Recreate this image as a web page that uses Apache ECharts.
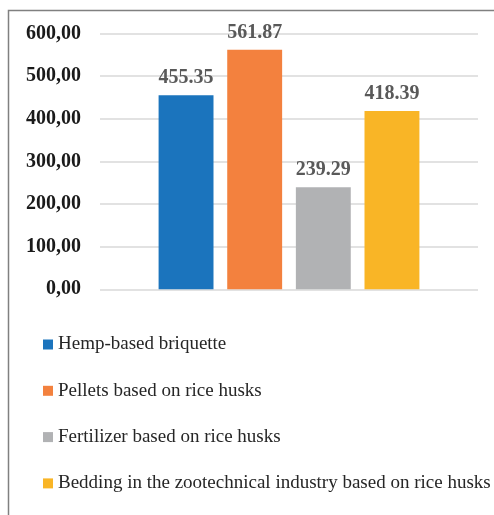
<!DOCTYPE html>
<html><head><meta charset="utf-8">
<script src="https://cdn.jsdelivr.net/npm/echarts@6/dist/echarts.min.js"></script>
<style>html,body{margin:0;padding:0;background:#fff}#c{width:494px;height:515px}</style>
</head><body><div id="c"></div>
<script>
const categories = [''];
const seriesNames = ['Hemp-based briquette','Pellets based on rice husks','Fertilizer based on rice husks','Bedding in the zootechnical industry based on rice husks'];
const seriesValues = [455.35, 561.87, 239.29, 418.39];
const seriesColors = ['#1B74BD','#F3813E','#B1B2B4','#F9B526'];
const yTicks = [0,100,200,300,400,500,600];
const FONT = "'Liberation Serif','Times New Roman',serif";
const chart = echarts.init(document.getElementById('c'), null, {renderer:'canvas'});
chart.setOption({
  animation:false,
  backgroundColor:'#fff',
  graphic:[{type:'rect',shape:{x:8.5,y:10.5,width:520,height:540},style:{fill:'none',stroke:'#808080',lineWidth:1.5},z:100}],
  grid:{left:100,right:16,top:33.5,height:255.8},
  xAxis:{type:'category',data:categories,axisLine:{show:false},axisTick:{show:false},axisLabel:{show:false}},
  yAxis:{type:'value',min:yTicks[0],max:yTicks[yTicks.length-1],interval:100,
    axisLine:{show:false},axisTick:{show:false},
    splitLine:{lineStyle:{color:'#d9d9d9',width:1.5}},
    axisLabel:{margin:19,fontFamily:FONT,fontWeight:'bold',fontSize:20,color:'#1a1a1a',
      formatter:v=>v.toFixed(2).replace('.',',')}},
  legend:{orient:'vertical',left:38,top:329.5,itemWidth:10,itemHeight:10,itemGap:26.3,icon:'rect',
    textStyle:{fontFamily:FONT,fontSize:19,color:'#262626',lineHeight:20},
    data:seriesNames},
  series:seriesNames.map((n,i)=>({
    name:n,type:'bar',data:[seriesValues[i]],
    barCategoryGap:'31%',barGap:'25%',
    itemStyle:{color:seriesColors[i]},
    label:{show:true,position:'top',distance:7,fontFamily:FONT,fontWeight:'bold',fontSize:20,color:'#595959',
      formatter:p=>p.value.toFixed(2)}
  }))
});
</script></body></html>
